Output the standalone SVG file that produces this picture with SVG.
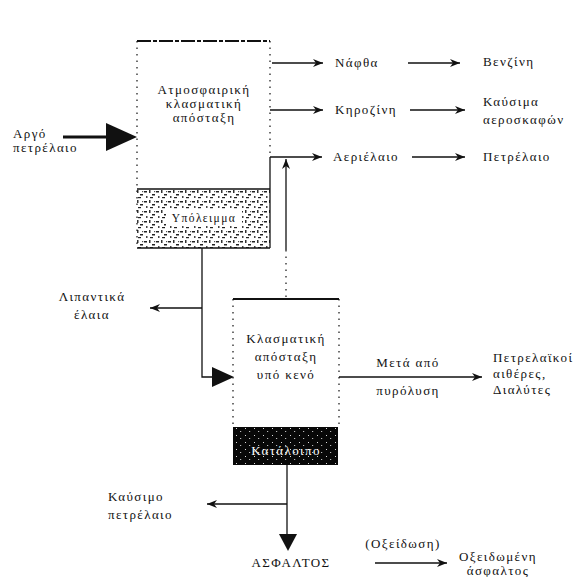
<svg xmlns="http://www.w3.org/2000/svg" width="582" height="577" viewBox="0 0 582 577">
<style>
text{font-family:"Liberation Serif","DejaVu Serif",serif;font-size:13px;fill:#111;letter-spacing:1.4px}
.c{text-anchor:middle}
.w{fill:#fff}
.s{font-size:11.5px}
.ln{stroke:#111;stroke-width:1.3;fill:none}
.dot{stroke:#111;stroke-width:1.2;fill:none;stroke-dasharray:1.5 5}
.dash{stroke:#111;stroke-width:2;fill:none;stroke-dasharray:14 2 4 2}
</style>
<defs>
<marker id="ah" viewBox="0 0 10 8" refX="10" refY="4" markerWidth="10" markerHeight="8" markerUnits="userSpaceOnUse" orient="auto">
<path d="M0,0 L10,4 L0,8 L3,4 Z" fill="#111"/>
</marker>
<pattern id="noise" width="12" height="10" patternUnits="userSpaceOnUse">
<rect width="12" height="10" fill="#fff"/>
<rect x="0" y="1" width="3" height="1.5" fill="#222"/>
<rect x="5" y="0" width="1.5" height="3" fill="#333"/>
<rect x="8" y="4" width="3" height="1.5" fill="#222"/>
<rect x="2" y="6" width="1.5" height="2" fill="#444"/>
<rect x="6" y="7" width="3" height="1.2" fill="#222"/>
<rect x="10" y="1" width="1.2" height="1.2" fill="#555"/>
</pattern>
<pattern id="black" width="9" height="7" patternUnits="userSpaceOnUse">
<rect width="9" height="7" fill="#080808"/>
<rect x="2" y="1" width="1" height="1" fill="#ddd"/>
<rect x="6" y="4" width="1.2" height="1" fill="#bbb"/>
</pattern>
</defs>

<g id="connectors">
<line x1="63" y1="137" x2="110" y2="137" stroke="#111" stroke-width="3"/>
<path d="M106,123 L137,137 L106,151 Z" fill="#111"/>
<line class="ln" x1="272" y1="63" x2="323" y2="63" marker-end="url(#ah)"/>
<line class="ln" x1="408" y1="63" x2="460" y2="63" marker-end="url(#ah)"/>
<line class="ln" x1="270" y1="110" x2="323" y2="110" marker-end="url(#ah)"/>
<line class="ln" x1="410" y1="110" x2="465" y2="110" marker-end="url(#ah)"/>
<line class="ln" x1="270" y1="157" x2="322" y2="157" marker-end="url(#ah)"/>
<line class="ln" x1="412" y1="157" x2="465" y2="157" marker-end="url(#ah)"/>
<line class="ln" x1="286" y1="250" x2="286" y2="159" marker-end="url(#ah)"/>
<line class="dot" x1="286" y1="250" x2="286" y2="299"/>
<polyline class="ln" points="202,248 202,377 214,377"/>
<path d="M212,367 L234,377 L212,387 Z" fill="#111"/>
<line class="ln" x1="202" y1="308" x2="150" y2="308" marker-end="url(#ah)"/>
<line class="ln" x1="339" y1="377" x2="482" y2="377" marker-end="url(#ah)"/>
<line class="ln" x1="287" y1="465" x2="287" y2="536"/>
<path d="M279,534 L297,534 L288,551 Z" fill="#111"/>
<line class="ln" x1="287" y1="504" x2="207" y2="504" marker-end="url(#ah)"/>
<line class="ln" x1="375" y1="563" x2="447" y2="563" marker-end="url(#ah)"/>
</g>

<g id="atm-column">
<rect x="137" y="189" width="133" height="59" fill="url(#noise)"/>
<rect x="166" y="210" width="76" height="16" fill="#fff"/>
<line class="dash" x1="137" y1="41" x2="270" y2="41"/>
<line class="dot" x1="137" y1="41" x2="137" y2="248"/>
<line class="dot" x1="270" y1="41" x2="270" y2="157"/>
<line class="ln" x1="270" y1="157" x2="270" y2="248"/>
<line class="ln" x1="137" y1="189" x2="270" y2="189"/>
<line class="ln" x1="137" y1="248" x2="270" y2="248"/>
<text class="c" x="204" y="94">Ατμοσφαιρική</text>
<text class="c" x="204" y="108">κλασματική</text>
<text class="c" x="204" y="122">απόσταξη</text>
<text class="c s" x="204" y="222">Υπόλειμμα</text>
</g>

<g id="crude-oil">
<text x="13" y="138">Αργό</text>
<text x="13" y="152">πετρέλαιο</text>
</g>

<g id="naphtha"><text x="335" y="67">Νάφθα</text></g>
<g id="gasoline"><text x="483" y="66">Βενζίνη</text></g>
<g id="kerosene"><text x="335" y="114">Κηροζίνη</text></g>
<g id="jet-fuel">
<text x="483" y="106">Καύσιμα</text>
<text x="483" y="124">αεροσκαφών</text>
</g>
<g id="gas-oil"><text x="333" y="161">Αεριέλαιο</text></g>
<g id="diesel"><text x="483" y="161">Πετρέλαιο</text></g>

<g id="lube-oils">
<text class="c" x="92" y="301">Λιπαντικά</text>
<text class="c" x="92" y="319">έλαια</text>
</g>

<g id="vacuum-column">
<line class="ln" x1="233" y1="299" x2="339" y2="299" style="stroke-width:2"/>
<line class="dot" x1="233" y1="299" x2="233" y2="427"/>
<line class="dot" x1="339" y1="299" x2="339" y2="427"/>
<rect x="233" y="427" width="105" height="38" fill="url(#black)"/>
<text class="c" x="286" y="343">Κλασματική</text>
<text class="c" x="286" y="361">απόσταξη</text>
<text class="c" x="286" y="379">υπό κενό</text>
<text class="c w" x="286" y="455">Κατάλοιπο</text>
</g>

<g id="cracking-label">
<text class="c" x="408" y="367">Μετά από</text>
<text class="c" x="408" y="395">πυρόλυση</text>
</g>

<g id="ethers">
<text x="493" y="362">Πετρελαϊκοί</text>
<text x="493" y="378">αιθέρες,</text>
<text x="493" y="394">Διαλύτες</text>
</g>

<g id="fuel-oil">
<text x="108" y="501">Καύσιμο</text>
<text x="108" y="519">πετρέλαιο</text>
</g>

<g id="asphalt"><text class="c" x="291" y="567">ΑΣΦΑΛΤΟΣ</text></g>
<g id="oxidation-label"><text class="c" x="403" y="548">(Οξείδωση)</text></g>
<g id="oxidized-asphalt">
<text class="c" x="498" y="561">Οξειδωμένη</text>
<text class="c" x="498" y="575">άσφαλτος</text>
</g>
</svg>
